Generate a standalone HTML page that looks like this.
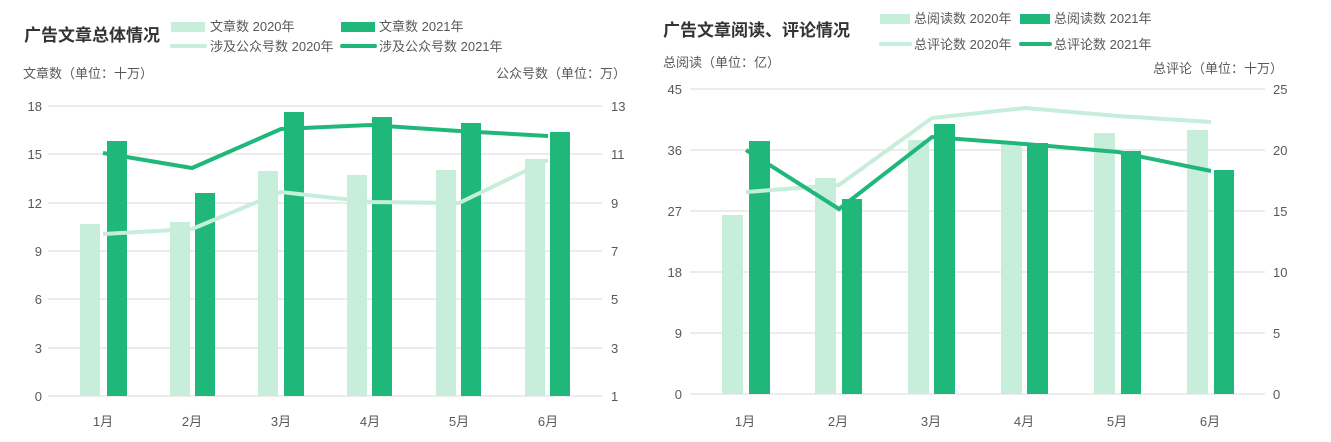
<!DOCTYPE html>
<html><head><meta charset="utf-8"><style>
body{margin:0;background:#fff}
svg{display:block;font-family:"Liberation Sans","Noto Sans CJK SC",sans-serif}
</style></head><body>
<svg width="1331" height="442" viewBox="0 0 1331 442">
<g fill="#595959" font-size="13">
<!-- LEFT CHART -->
<text x="24" y="41" font-size="17" font-weight="bold" fill="#333">广告文章总体情况</text>
<rect x="171" y="22" width="34" height="10" fill="#c6eedb"/><text x="210" y="31">文章数 2020年</text>
<rect x="341" y="22" width="34" height="10" fill="#1fb87a"/><text x="379" y="31">文章数 2021年</text>
<line x1="172" y1="46" x2="205" y2="46" stroke="#c6eedb" stroke-width="4" stroke-linecap="round"/><text x="210" y="51">涉及公众号数 2020年</text>
<line x1="342" y1="46" x2="375" y2="46" stroke="#1fb87a" stroke-width="4" stroke-linecap="round"/><text x="379" y="51">涉及公众号数 2021年</text>
<text x="23" y="78">文章数（单位：十万）</text>
<text x="626" y="78" text-anchor="end">公众号数（单位：万）</text>
<g stroke="#d9d9d9" stroke-width="1">
<line x1="48" y1="106" x2="602" y2="106"/><line x1="48" y1="154" x2="602" y2="154"/><line x1="48" y1="203" x2="602" y2="203"/><line x1="48" y1="251" x2="602" y2="251"/><line x1="48" y1="299" x2="602" y2="299"/><line x1="48" y1="348" x2="602" y2="348"/><line x1="48" y1="396" x2="602" y2="396"/>
</g>
<g text-anchor="end"><text x="42" y="111">18</text><text x="42" y="159">15</text><text x="42" y="208">12</text><text x="42" y="256">9</text><text x="42" y="304">6</text><text x="42" y="353">3</text><text x="42" y="401">0</text></g>
<g><text x="611" y="111">13</text><text x="611" y="159">11</text><text x="611" y="208">9</text><text x="611" y="256">7</text><text x="611" y="304">5</text><text x="611" y="353">3</text><text x="611" y="401">1</text></g>
<g fill="#c6eedb"><rect x="80" y="224" width="20" height="172"/><rect x="170" y="222" width="20" height="174"/><rect x="258" y="171" width="20" height="225"/><rect x="347" y="175" width="20" height="221"/><rect x="436" y="170" width="20" height="226"/><rect x="525" y="159" width="20" height="237"/></g>
<g fill="#1fb87a"><rect x="107" y="141" width="20" height="255"/><rect x="195" y="193" width="20" height="203"/><rect x="284" y="112" width="20" height="284"/><rect x="372" y="117" width="20" height="279"/><rect x="461" y="123" width="20" height="273"/><rect x="550" y="132" width="20" height="264"/></g>
<polyline points="103,234 192,229 281,192 370,202 459,203 548,160" fill="none" stroke="#c6eedb" stroke-width="4"/>
<polyline points="103,153 192,168 281,129 370,125 459,131 548,136" fill="none" stroke="#1fb87a" stroke-width="4"/>
<g text-anchor="middle"><text x="103" y="426">1月</text><text x="192" y="426">2月</text><text x="281" y="426">3月</text><text x="370" y="426">4月</text><text x="459" y="426">5月</text><text x="548" y="426">6月</text></g>

<!-- RIGHT CHART -->
<text x="663" y="36" font-size="17" font-weight="bold" fill="#333">广告文章阅读、评论情况</text>
<rect x="880" y="14" width="30" height="10" fill="#c6eedb"/><text x="914" y="23">总阅读数 2020年</text>
<rect x="1020" y="14" width="30" height="10" fill="#1fb87a"/><text x="1054" y="23">总阅读数 2021年</text>
<line x1="881" y1="44" x2="910" y2="44" stroke="#c6eedb" stroke-width="4" stroke-linecap="round"/><text x="914" y="49">总评论数 2020年</text>
<line x1="1021" y1="44" x2="1050" y2="44" stroke="#1fb87a" stroke-width="4" stroke-linecap="round"/><text x="1054" y="49">总评论数 2021年</text>
<text x="663" y="67">总阅读（单位：亿）</text>
<text x="1283" y="73" text-anchor="end">总评论（单位：十万）</text>
<g stroke="#d9d9d9" stroke-width="1">
<line x1="690" y1="89" x2="1265" y2="89"/><line x1="690" y1="150" x2="1265" y2="150"/><line x1="690" y1="211" x2="1265" y2="211"/><line x1="690" y1="272" x2="1265" y2="272"/><line x1="690" y1="333" x2="1265" y2="333"/><line x1="690" y1="394" x2="1265" y2="394"/>
</g>
<g text-anchor="end"><text x="682" y="94">45</text><text x="682" y="155">36</text><text x="682" y="216">27</text><text x="682" y="277">18</text><text x="682" y="338">9</text><text x="682" y="399">0</text></g>
<g><text x="1273" y="94">25</text><text x="1273" y="155">20</text><text x="1273" y="216">15</text><text x="1273" y="277">10</text><text x="1273" y="338">5</text><text x="1273" y="399">0</text></g>
<g fill="#c6eedb"><rect x="722" y="215" width="21" height="179"/><rect x="815" y="178" width="21" height="216"/><rect x="908" y="140" width="21" height="254"/><rect x="1001" y="143" width="21" height="251"/><rect x="1094" y="133" width="21" height="261"/><rect x="1187" y="130" width="21" height="264"/></g>
<g fill="#1fb87a"><rect x="749" y="141" width="21" height="253"/><rect x="842" y="199" width="20" height="195"/><rect x="934" y="124" width="21" height="270"/><rect x="1027" y="143" width="21" height="251"/><rect x="1121" y="151" width="20" height="243"/><rect x="1214" y="170" width="20" height="224"/></g>
<polyline points="746,192 839,185 932,118 1025,108 1118,116 1211,122" fill="none" stroke="#c6eedb" stroke-width="4"/>
<polyline points="746,150 839,209 932,137 1025,144 1118,152 1211,171" fill="none" stroke="#1fb87a" stroke-width="4"/>
<g text-anchor="middle"><text x="745" y="426">1月</text><text x="838" y="426">2月</text><text x="931" y="426">3月</text><text x="1024" y="426">4月</text><text x="1117" y="426">5月</text><text x="1210" y="426">6月</text></g>
</g>
</svg>
</body></html>
